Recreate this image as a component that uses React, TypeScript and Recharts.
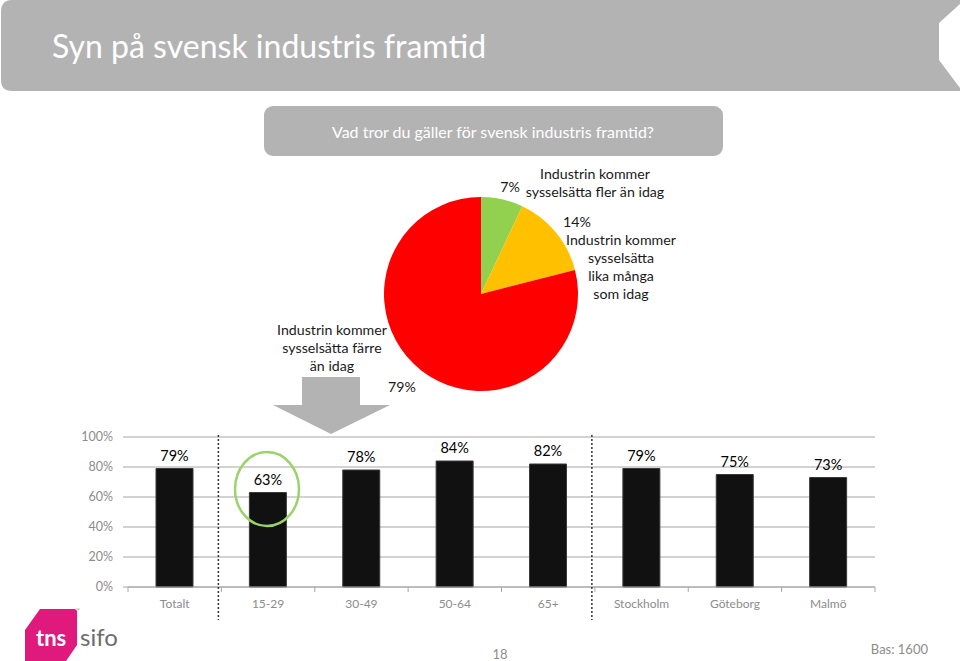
import { PieChart, Pie, Cell, BarChart, Bar, XAxis, YAxis, CartesianGrid, LabelList } from 'recharts';

// pie: answer shares (%)
const pieNames = [
  'Industrin kommer sysselsätta fler än idag',
  'Industrin kommer sysselsätta lika många som idag',
  'Industrin kommer sysselsätta färre än idag',
];
const pieValues = [7, 14, 79];
const pieColors = ['#92d050', '#ffc000', '#ff0000'];
// how each pie label is broken into lines
const pieLabelLines = [
  ['Industrin kommer', 'sysselsätta fler än idag'],
  ['Industrin kommer', 'sysselsätta', 'lika många', 'som idag'],
  ['Industrin kommer', 'sysselsätta färre', 'än idag'],
];

// bars: share "färre än idag" per group (%)
const groups = ['Totalt', '15-29', '30-49', '50-64', '65+', 'Stockholm', 'Göteborg', 'Malmö'];
const groupValues = [79, 63, 78, 84, 82, 79, 75, 73];
const yTicks = [0, 20, 40, 60, 80, 100];

const FONT = 'Lato, "Open Sans", sans-serif';

const pieData = pieNames.map((name, i) => ({ name, value: pieValues[i] }));
const barData = groups.map((g, i) => ({ name: g, value: groupValues[i] }));

// label placement per slice, relative to the pie centre
const renderPieLabel = (props: any) => {
  const { cx, cy, index, value } = props;
  const lines = pieLabelLines[index];
  const txt = { fontFamily: FONT, fontSize: 14.2, fill: '#1a1a1a', textAnchor: 'middle' as const, dominantBaseline: 'central' as const };
  if (index === 0) {
    return (
      <g>
        <text x={cx + 29} y={cy - 108} {...txt}>{value}%</text>
        <text x={cx + 114} y={cy - 121} {...txt}>{lines[0]}</text>
        <text x={cx + 114} y={cy - 103} {...txt}>{lines[1]}</text>
      </g>
    );
  }
  if (index === 1) {
    return (
      <g>
        <text x={cx + 96} y={cy - 73} {...txt}>{value}%</text>
        {lines.map((l, k) => (
          <text key={k} x={cx + 140} y={cy - 55 + k * 18} {...txt}>{l}</text>
        ))}
      </g>
    );
  }
  return (
    <g>
      <text x={cx - 79} y={cy + 92} {...txt}>{value}%</text>
      {lines.map((l, k) => (
        <text key={k} x={cx - 149} y={cy + 35 + k * 18} {...txt}>{l}</text>
      ))}
    </g>
  );
};

// category tick: label + boundary tick marks + dotted separators
const GroupTick = (props: any) => {
  const { x, y, payload, index } = props;
  const half = payload && payload.offset ? payload.offset : 46.7;
  const last = index === groups.length - 1;
  return (
    <g>
      <line x1={x - half} y1={y} x2={x - half} y2={y + 5} stroke="#a6a6a6" />
      {last && <line x1={x + half} y1={y} x2={x + half} y2={y + 5} stroke="#a6a6a6" />}
      {(index === 1 || index === 5) && (
        <line x1={x - half - 3} y1={15} x2={x - half - 3} y2={200} stroke="#333" strokeWidth={1.5} strokeDasharray="2 2" />
      )}
      <text x={x} y={y + 21} textAnchor="middle" fontFamily={FONT} fontSize={12} fill="#8c8c8c">
        {payload.value}
      </text>
    </g>
  );
};

export default function App() {
  return (
    <div style={{ position: 'absolute', left: 0, top: 0, width: 960, height: 661, background: '#fff', overflow: 'hidden' }}>
      {/* slide header + question box */}
      <svg width={960} height={661} style={{ position: 'absolute', left: 0, top: 0 }}>
        <path d="M 12 0 H 960 V 4 L 939 23 V 60 L 960 88 V 91 H 12 Q 1 91 1 80 V 12 Q 1 0 12 0 Z" fill="#b3b3b3" />
        <text x={52} y={58} fontFamily={FONT} fontSize={32} fill="#fff">Syn på svensk industris framtid</text>
        <rect x={264} y={106} width={459} height={50} rx={9} fill="#b3b3b3" />
        <text x={493} y={131} fontFamily={FONT} fontSize={16} fill="#fff" textAnchor="middle" dominantBaseline="central">
          Vad tror du gäller för svensk industris framtid?
        </text>
      </svg>

      <div style={{ position: 'absolute', left: 0, top: 0 }}>
        <PieChart width={960} height={440} margin={{ top: 0, right: 0, bottom: 0, left: 0 }}>
          <Pie
            data={pieData}
            dataKey="value"
            nameKey="name"
            cx={481}
            cy={294}
            outerRadius={97}
            startAngle={90}
            endAngle={-270}
            stroke="none"
            labelLine={false}
            label={renderPieLabel}
            isAnimationActive={false}
          >
            {pieData.map((_, i) => (
              <Cell key={i} fill={pieColors[i]} />
            ))}
          </Pie>
        </PieChart>
      </div>

      {/* arrow pointing down to the bars */}
      <svg width={960} height={661} style={{ position: 'absolute', left: 0, top: 0, pointerEvents: 'none' }}>
        <polygon points="302,377 360,377 360,405 390,405 331,434 273,405 302,405" fill="#b3b3b3" />
      </svg>

      <div style={{ position: 'absolute', left: 0, top: 420 }}>
        <BarChart width={900} height={200} data={barData} margin={{ top: 17, right: 25, bottom: 3, left: 0 }}>
          <CartesianGrid vertical={false} stroke="#a6a6a6" />
          <XAxis
            dataKey="name"
            height={30}
            axisLine={{ stroke: '#a6a6a6' }}
            tickLine={false}
            tickSize={0}
            tickMargin={0}
            interval={0}
            tick={<GroupTick />}
          />
          <YAxis
            width={128}
            domain={[0, 100]}
            ticks={yTicks}
            axisLine={false}
            tickLine={{ stroke: '#a6a6a6' }}
            tickSize={5}
            tickMargin={10}
            tickFormatter={(v: number) => `${v}%`}
            tick={{ fontFamily: FONT, fontSize: 12.5, fill: '#8c8c8c' }}
          />
          <Bar dataKey="value" fill="#111111" stroke="#3a3a3a" barSize={37} isAnimationActive={false}>
            <LabelList
              dataKey="value"
              position="top"
              offset={8}
              formatter={(v: any) => `${v}%`}
              style={{ fontFamily: FONT, fontSize: 14.5, fill: '#000' }}
            />
          </Bar>
        </BarChart>
      </div>

      {/* highlight ring, logo, footer */}
      <svg width={960} height={661} style={{ position: 'absolute', left: 0, top: 0, pointerEvents: 'none' }}>
        <ellipse cx={267} cy={489} rx={32} ry={37} fill="none" stroke="#9bd36a" strokeWidth={2.5} />
        <path d="M 40 609 H 74 Q 77 609 77 612 V 645 L 66 661 H 25 V 630 Z" fill="#e0197d" />
        <text x={36} y={646} fontFamily={FONT} fontWeight={700} fontSize={22} fill="#fff">tns</text>
        <text x={80} y={646} fontFamily={FONT} fontSize={24} fill="#6d6d6d">sifo</text>
        <text x={76} y={612} fontFamily={FONT} fontSize={5} fill="#888">™</text>
        <text x={500} y={659} textAnchor="middle" fontFamily={FONT} fontSize={13} fill="#8c8c8c">18</text>
        <text x={928} y={654} textAnchor="end" fontFamily={FONT} fontSize={13} fill="#8c8c8c">Bas: 1600</text>
      </svg>
    </div>
  );
}
